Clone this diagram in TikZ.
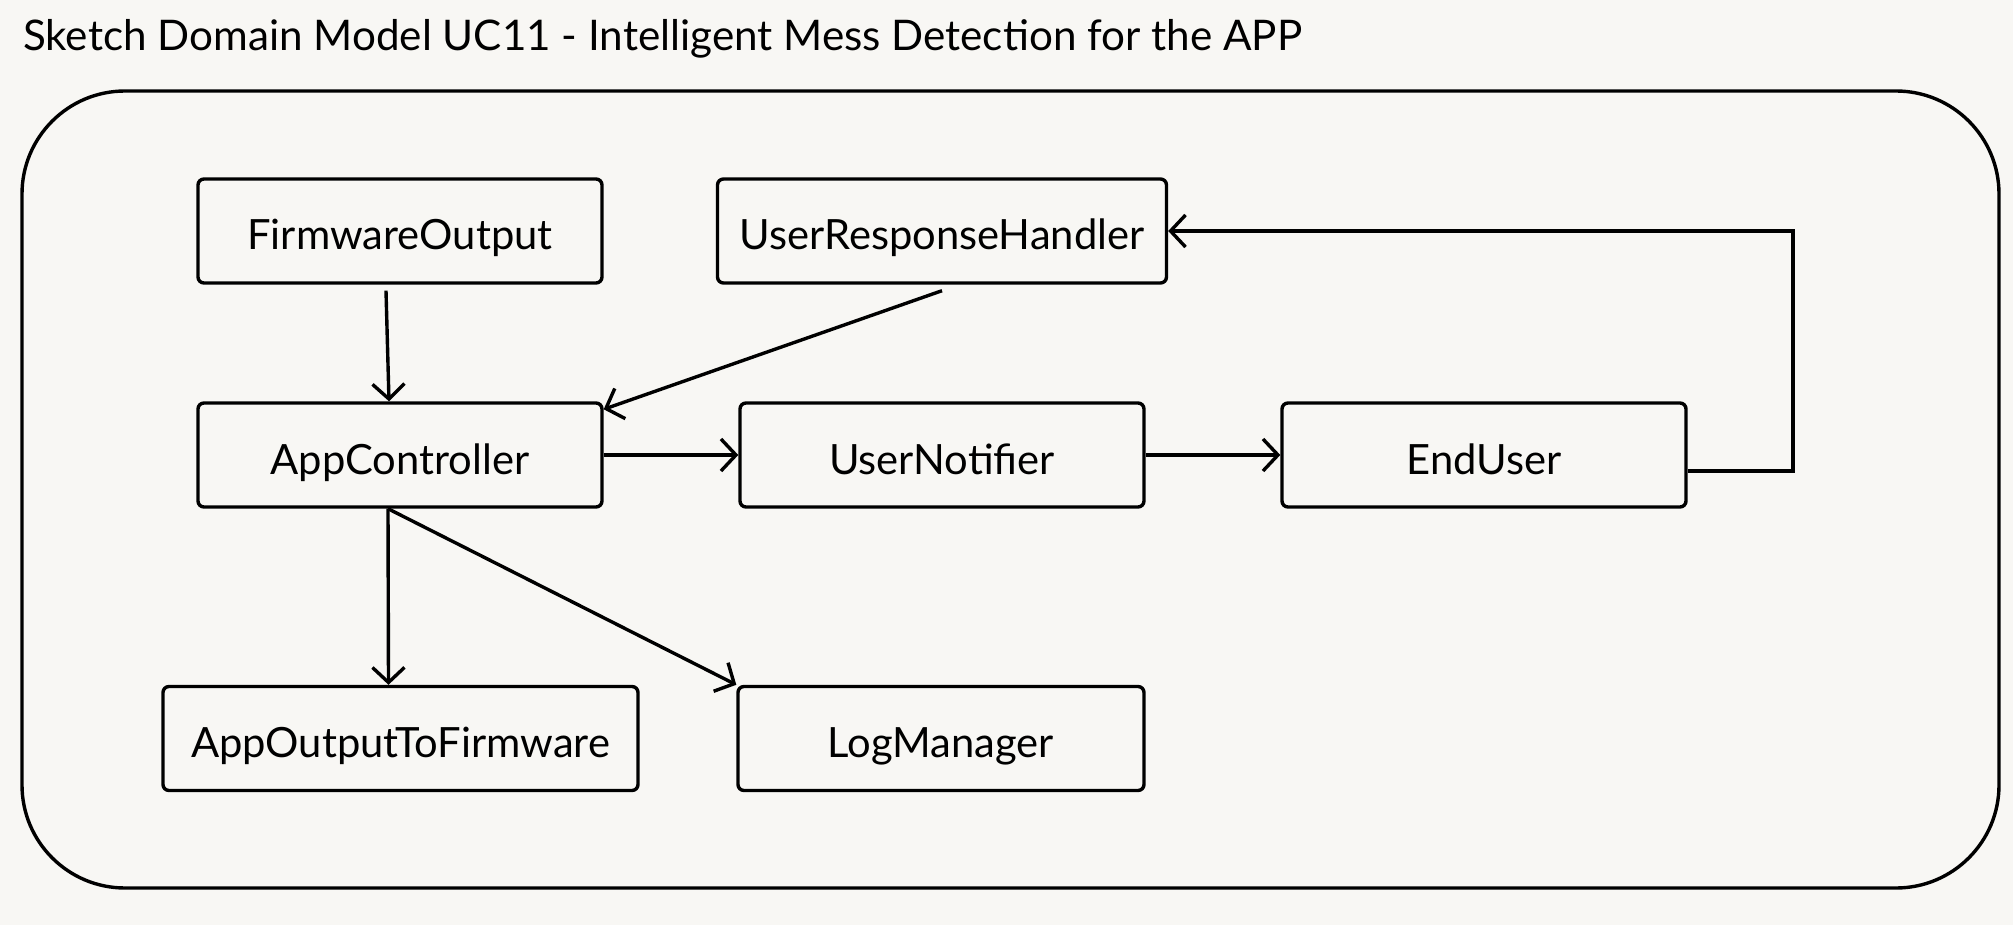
\documentclass[tikz,border=0pt]{standalone}
\usepackage{fontspec}
\setmainfont{Lato}
\usetikzlibrary{arrows.meta}
\definecolor{bg}{RGB}{248,247,244}
\tikzset{
  box/.style={draw=black, line width=3.4pt, rounded corners=6pt, rectangle,
    minimum height=104pt, inner sep=0pt, text height=38pt, text depth=0pt,
    font=\fontsize{41.7}{46}\selectfont, text=black},
  arr/.style={draw=black, line width=3.4pt, -{Straight Barb[length=15pt,width=32pt,line width=3.4pt]}},
}
\begin{document}
\begin{tikzpicture}[x=1pt,y=-1pt]
\fill[bg] (0,0) rectangle (2013,925);
\useasboundingbox (0,0) rectangle (2013,925);
\node[anchor=base west, inner sep=0pt, font=\fontsize{42.2}{48}\selectfont] (title) at (23,51) {Sketch Domain Model UC11 - Intelligent Mess Detection for the APP};
\draw[line width=3.4pt, rounded corners=103pt] (22,91) rectangle (1999,888);
\node[box, minimum width=404pt] (fo) at (400,231) {FirmwareOutput};
\node[box, minimum width=449pt] (urh) at (942,231) {UserResponseHandler};
\node[box, minimum width=404pt] (ac) at (400,455) {AppController};
\node[box, minimum width=404pt] (un) at (942,455) {UserNotifier};
\node[box, minimum width=404pt] (eu) at (1484,455) {EndUser};
\node[box, minimum width=475pt] (aotf) at (400.5,738.5) {AppOutputToFirmware};
\node[box, minimum width=406pt] (lm) at (941,738.5) {LogManager};
\coordinate (lp) at (1793,231);
\draw[arr] ([xshift=-14pt,yshift=-6pt]fo.south) -- ([xshift=-11pt]ac.north);
\draw[arr] ([yshift=-6pt]urh.south) -- ([yshift=-8pt]ac.north east);
\draw[arr] (ac.east) -- (un.west);
\draw[arr] (un.east) -- (eu.west);
\draw[arr] ([yshift=-16pt]eu.east) -| (lp) -- (urh.east);
\draw[arr] ([xshift=-12pt]ac.south) -- ([xshift=-12pt]aotf.north);
\draw[arr] ([xshift=-12pt]ac.south) -- (lm.north west);
\end{tikzpicture}
\end{document}
